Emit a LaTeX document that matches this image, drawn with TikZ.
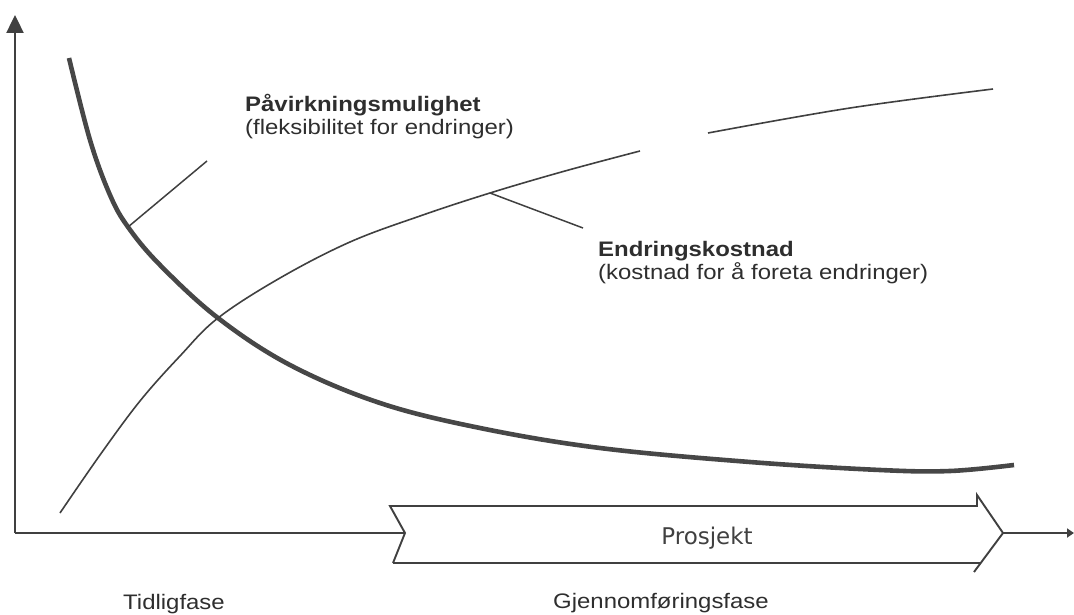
\documentclass[tikz,border=0pt]{standalone}
\usepackage{fontspec}
\usepackage{graphicx}
\setmainfont{Liberation Sans}
\newfontfamily\bandfont{DejaVu Sans}
\usetikzlibrary{arrows.meta}
% slightly widened lettering for the labels
\newcommand\widetext[1]{\scalebox{1.14}[1]{#1}}
\begin{document}
\begin{tikzpicture}[x=1pt,y=-1pt,
  ink/.style={draw=black!75},
  axisline/.style={ink,line width=2.4pt},
  thincurve/.style={ink,line width=1.6pt},
  thickcurve/.style={draw=black!72,line width=4.6pt},
  leader/.style={ink,line width=1.5pt},
  lbl/.style={text=black!82,font=\fontsize{21}{23}\selectfont,inner sep=0pt},
  bandtext/.style={text=black!75,font=\bandfont\fontsize{23}{26}\selectfont,inner sep=0pt}
]
\useasboundingbox (0,0) rectangle (1074,615);

% axes corner and the project band
\coordinate (origin) at (15,533);
\coordinate (ytop) at (15,15);
\coordinate (notch) at (405,533);
\coordinate (tip) at (1003,533);
\coordinate (xend) at (1074,533);

\draw[axisline,line width=2.6pt] (origin) -- (notch);
\draw[axisline,-{Triangle[width=17pt,length=18pt]}] (origin) -- (ytop);
\draw[axisline,-{Triangle[width=9pt,length=7pt]}] (tip) -- (xend);

% band with a notched tail and a pointed head
\draw[ink,line width=1.9pt,line join=miter]
  (393,563) -- (notch) -- (390,506) -- (977,506) -- (977,495) -- (tip) -- (974,572);
\draw[ink,line width=1.9pt] (393,563) -- (981,563);
\node[bandtext,anchor=base] (prosjekt) at (707,544) {Prosjekt};

% influence curve (thick, falling)
\draw[thickcurve] plot[smooth,tension=0.6] coordinates {
  (69,58) (90,140) (110,195) (128,227) (160,265) (218,318) (290,365)
  (380,403) (480,428) (600,448) (750,462) (880,470) (950,471) (1014,465)};
\coordinate (onthick) at (128,227);

% cost curve (thin, rising), drawn in two pieces
\draw[thincurve] plot[smooth,tension=0.6] coordinates {
  (60,513) (100,455) (140,401) (180,356) (218,318) (280,278) (350,242)
  (420,216) (490,193) (565,171) (640,151)};
\draw[thincurve] plot[smooth,tension=0.6] coordinates {
  (708,133) (850,108) (993,89)};
\coordinate (onthin) at (490,193);

% labels and their leader lines
\node[lbl,anchor=base west] (infl) at (245,112)
  {\widetext{\begin{tabular}[t]{@{}l@{}}\textbf{Påvirkningsmulighet}\\(fleksibilitet for endringer)\end{tabular}}};
\coordinate (inflend) at (207,161);
\draw[leader] (onthick) -- (inflend);

\node[lbl,anchor=base west] (cost) at (598,256)
  {\widetext{\begin{tabular}[t]{@{}l@{}}\textbf{Endringskostnad}\\(kostnad for å foreta endringer)\end{tabular}}};
\coordinate (costend) at (583,228);
\draw[leader] (onthin) -- (costend);

% phase names under the axis
\node[lbl,anchor=base west] (early) at (123,609) {\widetext{Tidligfase}};
\node[lbl,anchor=base west] (exec) at (553,608) {\widetext{Gjennomføringsfase}};
\end{tikzpicture}
\end{document}
